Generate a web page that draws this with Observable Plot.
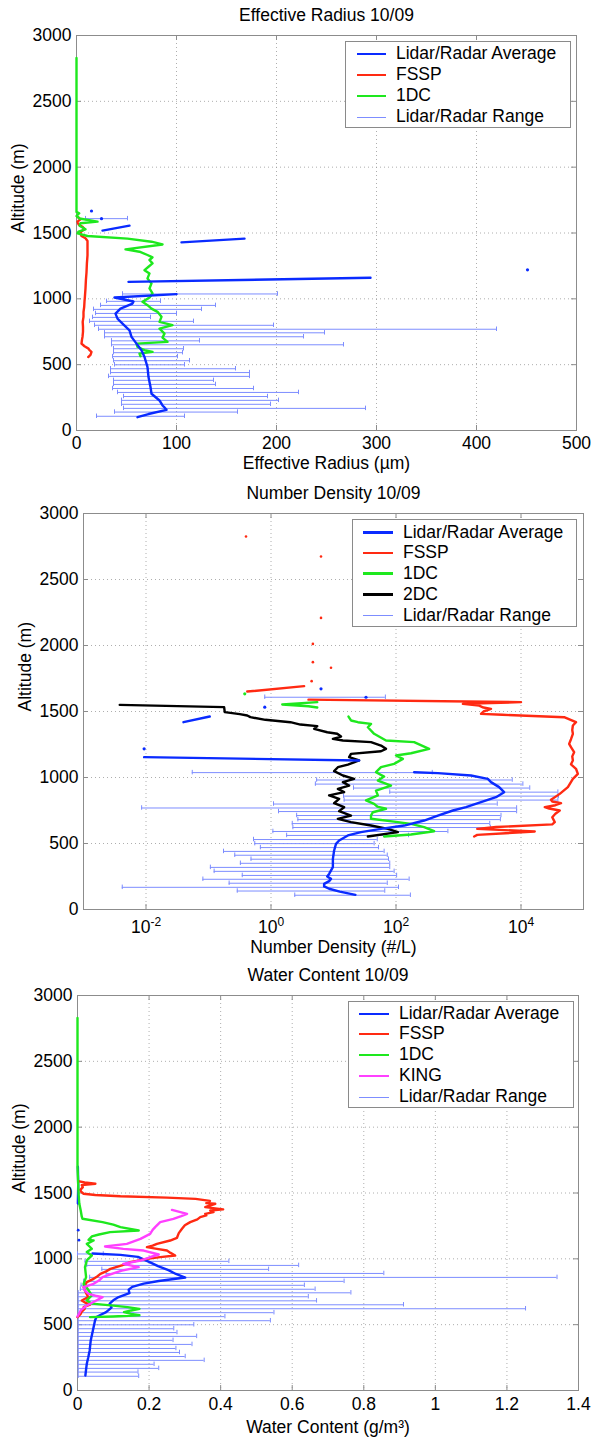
<!DOCTYPE html>
<html><head><meta charset="utf-8">
<script src="https://cdn.jsdelivr.net/npm/d3@7"></script>
<script src="https://cdn.jsdelivr.net/npm/@observablehq/plot@0.6"></script>
<style>
body{margin:0;background:#fff;}
#wrap{position:relative;width:592px;height:1439px;overflow:hidden;font-family:'Liberation Sans',Arial,Helvetica,sans-serif;background:#fff;}
.legend{position:absolute;background:#fff;border:1px solid #8a8a8a;box-sizing:border-box;font-size:17.5px;color:#000;}
.lg-line{position:absolute;}
.lg-text{position:absolute;white-space:nowrap;line-height:1;transform:translateY(-50%);}
</style></head><body><div id="wrap"></div>
<script>
// ---------------- DATA ----------------
// common altitudes (m) of the Lidar/Radar range bars
const rangeAlt = [108,140,168,199,229,258,289,319,350,381,411,440,469,499,530,561,591,621,651,681,712,742,769,799,829,859,889,920,950,981,1037];

// Panel 1: Effective radius (µm); pairs are [altitude, value], null = gap
const erAvg = [[101,61],[125,72],[157,90],[175,88],[190,86],[228,83],[279,75],[330,74],[406,72],[482,71],[558,68],[609,65],[660,60],[711,55],[761,53],[812,46],[850,41],[888,39],[926,44],[964,56],[980,57],[1010,38],[1036,100],null,[1129,52],[1160,294],null,[1429,105],[1457,168],null,[1518,26],[1556,53]];
const erFssp = [[558,11.7],[575,14],[597,15],[610,13],[622,12],[640,8],[660,5],[690,5.5],[711,6],[750,6.5],[787,6.5],[825,6.2],[863,7],[900,7],[939,7.7],[980,8],[1015,8.4],[1080,9],[1142,9.4],[1200,10],[1269,10.4],[1330,11],[1396,11],[1440,11],[1460,9],[1477,5],[1495,4],[1510,4.5],[1530,8],[1548,6],[1565,2],[1586,1],[1604,4],[1624,1]];
const er1dc = [[2830,0],[1660,0],[1650,2.7],[1629,0],[1610,3],[1586,21],[1574,4],[1555,3],[1528,9],[1510,2],[1497,1],[1477,11],[1457,51],[1434,75],[1413,86],[1376,49],[1358,63],[1333,71],[1315,76],[1295,73],[1269,76],[1244,72],[1218,68],[1193,73],[1155,71],[1117,75],[1079,73],[1041,76],[1010,73],[977,66],[952,71],[926,75],[901,81],[863,85],[825,83],[800,96],[774,83],[736,88],[706,86],[673,91],[660,60],[634,61],[610,68],[597,76],[584,63],[564,64]];
const erLo = [20,38,47,45,45,47,41,36,37,37,32,34,34,38,37,36,37,37,35,35,28,28,22,18,13,16,19,17,24,30,46];
const erHi = [108,161,289,194,202,191,222,177,139,137,173,173,159,108,113,101,106,107,267,123,227,248,420,197,117,74,100,125,139,84,201];
const erExtraRange = [[1609,9,51]];
const erPoints = [[1667,15],[1609,25],[1220,451]];

// Panel 2: Number density, values given as log10(#/L)
const ndAvg = [[111,1.35],[135,1.1],[157,0.93],[175,0.85],[194,0.85],[215,0.93],[232,0.96],[250,0.9],[270,0.93],[321,0.99],[384,0.99],[447,1.01],[497,1.04],[523,1.09],[561,1.23],[586,1.44],[611,1.76],[636,2.13],[674,2.45],[712,2.67],[750,2.91],[775,3.12],[813,3.36],[851,3.6],[889,3.73],[927,3.65],[965,3.52],[990,3.47],[1015,3.2],[1033,2.67],[1040,2.29],null,[1129,1.41],[1154,-2.03],null,[1419,-1.4],[1462,-0.98]];
const ndFssp = [[553,3.25],[565,3.3],[591,4.22],[611,3.3],[625,3.6],[645,4.5],[662,4.54],[699,4.5],[725,4.55],[750,4.62],[765,4.45],[775,4.38],[790,4.55],[805,4.64],[818,4.5],[831,4.48],[876,4.62],[927,4.75],[990,4.83],[1028,4.91],[1066,4.88],[1100,4.8],[1129,4.83],[1160,4.82],[1192,4.85],[1230,4.8],[1255,4.77],[1290,4.8],[1331,4.83],[1360,4.82],[1394,4.83],[1419,4.88],[1457,4.69],[1475,3.7],[1482,3.36],[1500,3.4],[1520,3.52],[1530,3.4],[1545,3.33],[1558,3.07],[1571,4.0],[1590,0.6],null,[1651,-0.38],[1692,0.53]];
const ndFsspDots = [[2826,-0.4],[2674,0.8],[2209,0.8],[2012,0.67],[1874,0.67],[1831,0.96],[1730,0.65]];
const nd1dc = [[553,1.81],[568,2.24],[593,2.61],[624,2.45],[649,2.24],[662,2.03],[687,1.6],[712,1.6],[737,1.63],[763,1.84],[780,1.7],[800,1.65],[826,1.52],[864,1.71],[901,1.68],[939,1.92],[977,1.71],[1007,1.81],[1040,1.68],[1078,1.76],[1103,1.97],[1141,2.11],[1167,2.0],[1184,2.24],[1217,2.53],[1268,2.29],[1280,1.84],[1331,1.65],[1381,1.55],[1406,1.6],[1419,1.39],[1432,1.28],[1462,1.24],null,[1571,0.74],[1553,0.18],[1540,0.6],[1530,0.74]];
const nd1dcDots = [[1634,-0.42]];
const nd2dc = [[1550,-2.42],[1533,-0.75],[1495,-0.74],[1480,-0.5],[1470,-0.38],[1457,-0.33],[1437,-0.09],[1419,0.31],[1401,0.47],[1389,0.74],[1369,0.69],[1343,0.9],[1331,1.06],[1310,1.12],[1293,0.99],[1280,1.15],[1268,1.6],[1242,1.76],[1217,1.84],[1199,1.76],[1179,1.28],[1154,1.25],[1129,1.41],[1098,1.23],[1078,1.07],[1048,1.01],[1015,1.15],[990,1.33],[965,1.15],[939,1.25],[914,1.07],[889,1.17],[864,0.93],[838,1.09],[805,1.01],[775,1.17],[745,1.09],[712,1.28],[687,1.07],[662,1.28],[636,1.6],[611,1.87],[586,2.03],[553,1.55]];
const ndLo = [0.38,-0.54,-2.38,-0.67,-1.09,-0.46,-0.91,-0.97,-0.49,-0.32,-0.58,-0.76,-0.17,-0.26,-0.28,0.25,0.03,0.35,0.34,0.43,0.41,0.12,-2.07,0.04,1.17,1.16,1.9,1.32,0.71,0.73,-1.26];
const ndHi = [2.23,1.82,2.04,1.86,2.21,2.01,1.97,1.9,1.9,1.88,1.86,1.81,1.72,1.65,1.7,2.2,2.83,3.51,3.5,3.67,3.68,3.93,3.93,3.62,4.59,4.6,4.59,4.14,4.03,3.86,2.58];
const ndExtraRange = [[1608,-0.1,1.83]];
const ndPoints = [[1672,0.8],[1608,1.52],[1533,-0.1],[1217,-2.03]];

// Panel 3: Water content (g/m³)
const wcAvg = [[114,0.022],[160,0.024],[203,0.026],[250,0.03],[304,0.034],[380,0.037],[456,0.043],[532,0.049],[558,0.053],[575,0.065],[595,0.08],[630,0.095],[660,0.09],[685,0.1],[710,0.115],[740,0.145],[766,0.143],[787,0.153],[812,0.185],[832,0.227],[858,0.301],[885,0.275],[914,0.254],[945,0.225],[977,0.2],[1015,0.169],[1030,0.12],[1040,0.042],null,[1420,0.001],[1560,0.002],[1700,0.001]];
const wcPoints = [[1218,0.002],[1142,0.004]];
const wcFssp = [[557,0.0],[582,0.009],[600,0.012],[620,0.02],[633,0.017],[653,0.035],[670,0.02],[684,0.012],[710,0.03],[735,0.025],[760,0.021],[785,0.017],[805,0.022],[823,0.026],[848,0.045],[866,0.055],[886,0.064],[905,0.08],[924,0.092],[950,0.124],[975,0.147],[1000,0.194],[1013,0.231],[1025,0.273],[1045,0.26],[1063,0.25],[1076,0.222],[1089,0.194],[1100,0.21],[1114,0.222],[1139,0.259],[1160,0.278],[1195,0.283],[1228,0.292],[1255,0.3],[1279,0.315],[1300,0.335],[1317,0.343],[1330,0.36],[1342,0.357],[1355,0.38],[1367,0.371],[1376,0.407],[1393,0.357],[1405,0.37],[1418,0.385],[1423,0.36],[1440,0.37],[1455,0.33],[1465,0.25],[1475,0.12],[1485,0.05],[1494,0.017],[1510,0.01],[1524,0.008],[1545,0.015],[1560,0.012],[1570,0.05],[1580,0.02],[1590,0.002]];
const wc1dc = [[2830,0],[1700,0],[1494,0.003],[1420,0.005],[1367,0.009],[1320,0.012],[1304,0.014],[1279,0.07],[1260,0.1],[1241,0.12],[1215,0.171],[1203,0.091],[1185,0.06],[1170,0.04],[1155,0.035],[1144,0.031],[1139,0.045],[1114,0.026],[1090,0.035],[1076,0.04],[1051,0.026],[1025,0.04],[1000,0.03],[987,0.026],[937,0.021],[861,0.024],[810,0.017],[785,0.025],[760,0.031],[722,0.04],[684,0.026],[660,0.04],[645,0.1],[633,0.14],[620,0.173],[608,0.15],[595,0.13],[582,0.15],[572,0.173],[562,0.1],[557,0.035]];
const wcKing = [[562,0.0],[608,0.009],[646,0.026],[680,0.05],[709,0.07],[720,0.05],[734,0.031],[760,0.02],[785,0.017],[810,0.045],[835,0.06],[861,0.07],[890,0.1],[911,0.124],[937,0.171],[962,0.128],[987,0.176],[1010,0.2],[1033,0.227],[1063,0.185],[1076,0.128],[1094,0.077],[1114,0.138],[1152,0.176],[1190,0.203],[1220,0.21],[1241,0.217],[1279,0.231],[1304,0.268],[1325,0.29],[1342,0.306],[1372,0.264]];
const wcLo = [0.002,0.002,0.002,0.002,0.002,0.002,0.002,0.002,0.002,0.002,0.002,0.002,0.002,0.002,0.002,0.002,0.002,0.002,0.002,0.002,0.002,0.002,0.008,0.01,0.017,0.034,0.08,0.068,0.026,0.021,0.0];
const wcHi = [0.171,0.169,0.227,0.214,0.354,0.301,0.285,0.275,0.32,0.267,0.333,0.278,0.269,0.325,0.539,0.412,0.549,1.252,0.911,0.668,0.645,0.764,0.664,0.634,0.745,1.34,0.856,0.534,0.618,0.423,0.072];

// tick values and texts
const altTicks = [0,500,1000,1500,2000,2500,3000];
const erTicks = [0,100,200,300,400,500];
const ndTicks = [1e-2,1e0,1e2,1e4];
const wcTicks = [0,0.2,0.4,0.6,0.8,1,1.2,1.4];
const titles = ["Effective Radius 10/09","Number Density 10/09","Water Content 10/09"];
const xLabels = ["Effective Radius (\u00b5m)","Number Density (#/L)","Water Content (g/m\u00b3)"];
const yLabel = "Altitude (m)";

// ---------------- STYLE ----------------
const FONT = "'Liberation Sans', Arial, Helvetica, sans-serif";
const C = {avg:"#0a2bff", fssp:"#ff2a12", dc1:"#1ee81e", dc2:"#000000", king:"#ff40ff", range:"#7d8dff"};
const LW = 2.4;
const GRID = {stroke:"#999", strokeOpacity:1, strokeDasharray:"1,3", strokeWidth:0.8};
const AX = "#8c8c8c";

const ns = "http://www.w3.org/2000/svg";
const wrap = document.getElementById("wrap");

function rangeRows(lo, hi){ return rangeAlt.map((a,i)=>({alt:a, lo:lo[i], hi:hi[i]})); }

function seriesLine(data, color, fx){
  return Plot.line(data, {x: d => d==null ? NaN : fx(d[1]), y: d => d==null ? NaN : d[0], stroke: color, strokeWidth: LW, strokeLinejoin:"round", strokeLinecap:"round"});
}
function rangeMarks(rows, fx){
  return [
    Plot.ruleY(rows, {y:"alt", x1: d=>fx(d.lo), x2: d=>fx(d.hi), stroke: C.range, strokeWidth: 1}),
    Plot.ruleX(rows, {x: d=>fx(d.lo), y1: d=>d.alt-17, y2: d=>d.alt+17, stroke: C.range, strokeWidth: 1}),
    Plot.ruleX(rows, {x: d=>fx(d.hi), y1: d=>d.alt-17, y2: d=>d.alt+17, stroke: C.range, strokeWidth: 1})
  ];
}
function dotMarks(pts, color, fx, r){
  return Plot.dot(pts, {x: d=>fx(d[1]), y: d=>d[0], r: r||1.5, fill: color, stroke: "none"});
}

function makePanel(cfg){
  const {top, height, mt, mb, ml, mr, x, ticks, grid, fmt, tickPad, title, xlabel, xlabelDy, marks} = cfg;
  const pw = 592 - ml - mr, ph = height - mt - mb;
  const svg = Plot.plot({
    width: 592, height, marginTop: mt, marginBottom: mb, marginLeft: ml, marginRight: mr,
    x, y: {domain:[0,3000]},
    style: {fontFamily: FONT, fontSize: "17.5px", background: "transparent", color: "#000", overflow: "visible"},
    marks: [
      Plot.gridX(grid, GRID),
      Plot.gridY([500,1000,1500,2000,2500], GRID),
      Plot.frame({stroke: AX, strokeWidth: 1}),
      Plot.ruleX(ticks, {x: d=>d, insetTop: ph-5, stroke: AX}),
      Plot.ruleX(ticks, {x: d=>d, insetBottom: ph-5, stroke: AX}),
      Plot.ruleY(altTicks, {y: d=>d, insetRight: pw-5, stroke: AX}),
      Plot.ruleY(altTicks, {y: d=>d, insetLeft: pw-5, stroke: AX}),
      ...marks,
      Plot.axisX(ticks, {tickSize: 0, tickPadding: tickPad, tickFormat: fmt, label: null}),
      Plot.axisY(altTicks, {tickSize: 0, tickPadding: 5, tickFormat: d=>String(d), label: null}),
      Plot.text([title], {frameAnchor:"top", lineAnchor:"middle", dy:-20, text: d=>d}),
      Plot.text([xlabel], {frameAnchor:"bottom", lineAnchor:"middle", dy: xlabelDy, text: d=>d}),
      Plot.text([yLabel], {frameAnchor:"left", lineAnchor:"middle", dx:-58, rotate:-90, text: d=>d})
    ]
  });
  svg.style.position = "absolute";
  svg.style.left = "0px";
  svg.style.top = top + "px";
  wrap.appendChild(svg);
  return svg;
}

function addLegend(box, rows){
  const div = document.createElement("div");
  div.className = "legend";
  Object.assign(div.style, {left: box.left+"px", top: box.top+"px", width: box.w+"px", height: box.h+"px"});
  rows.forEach((r,i) => {
    const cy = box.rows[i];
    const ln = document.createElement("div");
    ln.className = "lg-line";
    Object.assign(ln.style, {left: box.lx+"px", width: box.lw+"px", top: (cy - r.w/2)+"px", height: r.w+"px", background: r.c});
    const tx = document.createElement("div");
    tx.className = "lg-text";
    tx.textContent = r.t;
    Object.assign(tx.style, {left: box.tx+"px", top: cy+"px"});
    div.append(ln, tx);
  });
  wrap.appendChild(div);
}

const lin = v => v;
const lg = v => Math.pow(10, v);

// ---------------- PANEL 1 ----------------
makePanel({
  top: 0, height: 480, mt: 35, mb: 50, ml: 76, mr: 16,
  x: {domain:[0,500]}, ticks: erTicks, grid: [100,200,300,400], fmt: d=>String(d), tickPad: 6,
  title: titles[0], xlabel: xLabels[0], xlabelDy: 33,
  marks: [
    ...rangeMarks(rangeRows(erLo, erHi), lin),
    ...rangeMarks(erExtraRange.map(d=>({alt:d[0], lo:d[1], hi:d[2]})), lin),
    seriesLine(erFssp, C.fssp, lin),
    seriesLine(er1dc, C.dc1, lin),
    seriesLine(erAvg, C.avg, lin),
    dotMarks(erPoints, C.avg, lin, 1.6)
  ]
});

// ---------------- PANEL 2 ----------------
const svg2 = makePanel({
  top: 480, height: 480, mt: 33, mb: 51, ml: 83, mr: 9,
  x: {type:"log", domain:[1e-3,1e5]}, ticks: ndTicks, grid: ndTicks,
  fmt: d => "10^" + Math.round(Math.log10(d)), tickPad: 11,
  title: titles[1], xlabel: xLabels[1], xlabelDy: 38,
  marks: [
    ...rangeMarks(rangeRows(ndLo, ndHi), lg),
    ...rangeMarks(ndExtraRange.map(d=>({alt:d[0], lo:d[1], hi:d[2]})), lg),
    seriesLine(nd2dc, C.dc2, lg),
    seriesLine(nd1dc, C.dc1, lg),
    seriesLine(ndFssp, C.fssp, lg),
    seriesLine(ndAvg, C.avg, lg),
    dotMarks(ndFsspDots, C.fssp, lg, 1.3),
    dotMarks(nd1dcDots, C.dc1, lg, 1.6),
    dotMarks(ndPoints, C.avg, lg, 1.6)
  ]
});
svg2.querySelectorAll('g[aria-label="x-axis tick label"] text').forEach(t => {
  const m = (t.textContent || "").match(/^10\^(.*)$/);
  if (!m) return;
  t.textContent = "";
  const a = document.createElementNS(ns, "tspan"); a.textContent = "10";
  const b = document.createElementNS(ns, "tspan"); b.textContent = m[1].replace("\u2212","-");
  b.setAttribute("dy", "-7"); b.setAttribute("font-size", "12");
  t.append(a, b);
});

// ---------------- PANEL 3 ----------------
makePanel({
  top: 960, height: 479, mt: 35, mb: 49, ml: 77, mr: 14,
  x: {domain:[0,1.4]}, ticks: wcTicks, grid: [0.2,0.4,0.6,0.8,1,1.2],
  fmt: d => String(+d.toFixed(1)), tickPad: 7,
  title: titles[2], xlabel: xLabels[2], xlabelDy: 37,
  marks: [
    ...rangeMarks(rangeRows(wcLo, wcHi), lin),
    seriesLine(wcAvg, C.avg, lin),
    seriesLine(wcFssp, C.fssp, lin),
    seriesLine(wc1dc, C.dc1, lin),
    seriesLine(wcKing, C.king, lin),
    dotMarks(wcPoints, C.avg, lin, 1.4)
  ]
});

// ---------------- LEGENDS ----------------
const L_AVG = {t:"Lidar/Radar Average", c:C.avg, w:2.4};
const L_FSSP = {t:"FSSP", c:C.fssp, w:2.4};
const L_1DC = {t:"1DC", c:C.dc1, w:2.4};
const L_2DC = {t:"2DC", c:C.dc2, w:2.4};
const L_KING = {t:"KING", c:C.king, w:2.4};
const L_RANGE = {t:"Lidar/Radar Range", c:C.range, w:1};
addLegend({left:345, top:41, w:226, h:87, rows:[12,33,54,75], lx:11, lw:29, tx:50}, [L_AVG, L_FSSP, L_1DC, L_RANGE]);
addLegend({left:352, top:519, w:225, h:108, rows:[12.5,33,53.5,74.5,95.5], lx:10, lw:30, tx:50}, [L_AVG, L_FSSP, L_1DC, L_2DC, L_RANGE]);
addLegend({left:348, top:1001, w:226, h:107, rows:[12,32,53,74,95], lx:10, lw:30, tx:50}, [L_AVG, L_FSSP, L_1DC, L_KING, L_RANGE]);
</script></body></html>
